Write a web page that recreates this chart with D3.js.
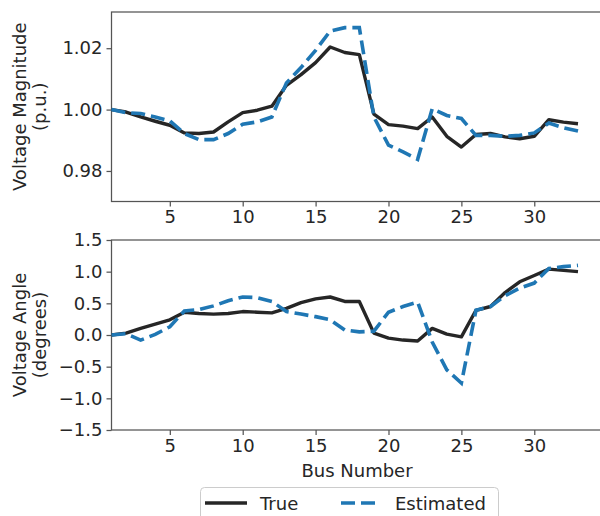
<!DOCTYPE html>
<html lang="en">

<head>
    <meta charset="utf-8">
    <style type="text/css">
        body { margin: 0; background: #fff; }
        text { font-family: "DejaVu Sans", sans-serif; fill: #262626; }
        .domain, .tick line { stroke: #555; }
    </style>
</head>

<body>
    <svg width="600" height="516"></svg>
    <script src="https://d3js.org/d3.v7.min.js" type="text/javascript"></script>

    <script type="text/javascript">
        // bus numbers 1..33
        var buses = [1, 2, 3, 4, 5, 6, 7, 8, 9, 10, 11, 12, 13, 14, 15, 16, 17,
            18, 19, 20, 21, 22, 23, 24, 25, 26, 27, 28, 29, 30, 31, 32, 33];

        var magTrue = [1.0000, 0.9992, 0.9976, 0.9962, 0.9949, 0.9924, 0.9922, 0.9927, 0.9960, 0.9990,
            0.9998, 1.0011, 1.0079, 1.0114, 1.0153, 1.0204, 1.0186, 1.0179, 0.9985, 0.9951,
            0.9946, 0.9938, 0.9976, 0.9913, 0.9878, 0.9919, 0.9922, 0.9911, 0.9905, 0.9913,
            0.9967, 0.9959, 0.9954];
        var magEst = [1.0000, 0.9990, 0.9987, 0.9976, 0.9963, 0.9922, 0.9902, 0.9902, 0.9922, 0.9952,
            0.9960, 0.9976, 1.0087, 1.0137, 1.0193, 1.0256, 1.0267, 1.0267, 0.9976, 0.9884,
            0.9862, 0.9838, 1.0003, 0.9981, 0.9971, 0.9916, 0.9916, 0.9913, 0.9916, 0.9924,
            0.9956, 0.9941, 0.9930];

        var angTrue = [0.00, 0.03, 0.105, 0.17, 0.24, 0.36, 0.34, 0.33, 0.34, 0.37,
            0.36, 0.35, 0.42, 0.51, 0.57, 0.60, 0.53, 0.53, 0.03, -0.05,
            -0.08, -0.095, 0.105, 0.015, -0.03, 0.39, 0.45, 0.67, 0.84, 0.94,
            1.04, 1.02, 1.00];
        var angEst = [0.00, 0.02, -0.08, 0.01, 0.13, 0.38, 0.40, 0.46, 0.54, 0.60,
            0.59, 0.53, 0.37, 0.33, 0.29, 0.24, 0.08, 0.05, 0.06, 0.36,
            0.45, 0.52, -0.11, -0.55, -0.76, 0.39, 0.45, 0.62, 0.74, 0.82,
            1.05, 1.08, 1.10];

        var xTicks = [5, 10, 15, 20, 25, 30];
        var magTicks = [0.98, 1.00, 1.02];
        var angTicks = [-1.5, -1.0, -0.5, 0.0, 0.5, 1.0, 1.5];

        var svg = d3.select("svg");
        var left = 111.5, right = 602.5;
        var dash = "14,6";

        var x = d3.scaleLinear().domain([1, 34.68]).range([left, right]);

        var panels = [
            {
                top: 12, bottom: 201.5, domain: [0.97005, 1.0318], ticks: magTicks,
                fmt: d3.format(".2f"), label: ["Voltage Magnitude", "(p.u.)"],
                tru: magTrue, est: magEst
            },
            {
                top: 240, bottom: 430, domain: [-1.5, 1.5], ticks: angTicks,
                fmt: function (d) { return d3.format(".1f")(d).replace("-", "\u2212"); },
                label: ["Voltage Angle", "(degrees)"],
                tru: angTrue, est: angEst
            }
        ];

        panels.forEach(function (p) {
            var y = d3.scaleLinear().domain(p.domain).range([p.bottom, p.top]);
            var g = svg.append("g");

            // frame
            g.append("rect")
                .attr("x", left).attr("y", p.top)
                .attr("width", right - left).attr("height", p.bottom - p.top)
                .attr("fill", "none").attr("stroke", "#555").attr("stroke-width", 1.25);

            var xa = g.append("g")
                .attr("transform", "translate(0," + p.bottom + ")")
                .call(d3.axisBottom(x).tickValues(xTicks).tickSize(5).tickPadding(4));
            var ya = g.append("g")
                .attr("transform", "translate(" + left + ",0)")
                .call(d3.axisLeft(y).tickValues(p.ticks).tickFormat(p.fmt).tickSize(5).tickPadding(4));
            [xa, ya].forEach(function (a) {
                a.select(".domain").remove();
                a.selectAll(".tick line").attr("stroke-width", 1.25);
                a.selectAll("text").style("font-size", "18px").attr("fill", "#262626");
            });

            var line = d3.line()
                .x(function (d, i) { return x(buses[i]); })
                .y(function (d) { return y(d); });

            g.append("path")
                .datum(p.tru)
                .attr("d", line)
                .attr("fill", "none")
                .attr("stroke", "#262626")
                .attr("stroke-width", 3.4)
                .attr("stroke-linejoin", "round");

            g.append("path")
                .datum(p.est)
                .attr("d", line)
                .attr("fill", "none")
                .attr("stroke", "#1f77b4")
                .attr("stroke-width", 3.6)
                .attr("stroke-dasharray", dash);

            // two-line y label
            var cy = (p.top + p.bottom) / 2;
            g.append("text")
                .attr("transform", "translate(26," + cy + ") rotate(-90)")
                .attr("text-anchor", "middle")
                .style("font-size", "18px")
                .text(p.label[0]);
            g.append("text")
                .attr("transform", "translate(46," + cy + ") rotate(-90)")
                .attr("text-anchor", "middle")
                .style("font-size", "18px")
                .text(p.label[1]);
        });

        svg.append("text")
            .attr("x", (left + right) / 2)
            .attr("y", 477)
            .attr("text-anchor", "middle")
            .style("font-size", "18px")
            .text("Bus Number");

        // legend
        var legend = svg.append("g");
        legend.append("rect")
            .attr("x", 200.5).attr("y", 487.5)
            .attr("width", 298).attr("height", 40)
            .attr("rx", 4)
            .attr("fill", "#fff")
            .attr("stroke", "#ccc");
        legend.append("line")
            .attr("x1", 205).attr("x2", 247).attr("y1", 503).attr("y2", 503)
            .attr("stroke", "#262626").attr("stroke-width", 3.4);
        legend.append("text")
            .attr("x", 260).attr("y", 509.5)
            .style("font-size", "18px")
            .text("True");
        legend.append("line")
            .attr("x1", 341).attr("x2", 375).attr("y1", 503).attr("y2", 503)
            .attr("stroke", "#1f77b4").attr("stroke-width", 3.6)
            .attr("stroke-dasharray", dash);
        legend.append("text")
            .attr("x", 395).attr("y", 509.5)
            .style("font-size", "18px")
            .text("Estimated");
    </script>

</body>

</html>
